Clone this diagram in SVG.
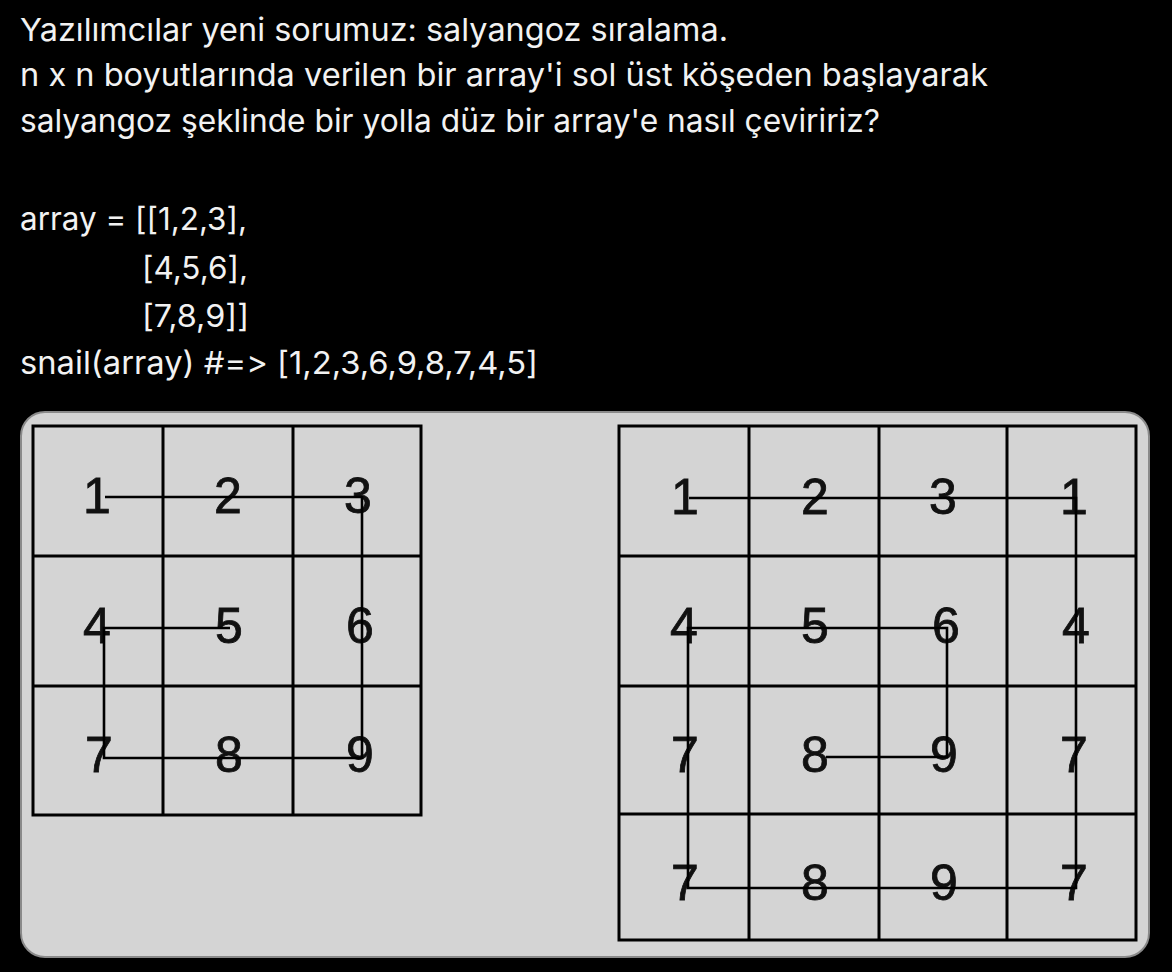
<svg xmlns="http://www.w3.org/2000/svg" width="1172" height="972" viewBox="0 0 1172 972">
<style>
.t{font-family:Inter,"Liberation Sans",sans-serif;font-size:31.5px;fill:#f2f2f2;font-variant-ligatures:none;font-feature-settings:"calt" 0,"liga" 0}
.g{fill:none;stroke:#000;stroke-width:3}
.p{fill:none;stroke:#000;stroke-width:2.6;stroke-linejoin:miter}
.d{font-family:"Liberation Sans","DejaVu Sans",sans-serif;font-size:50px;fill:#111;stroke:#111;stroke-width:0.8;text-anchor:middle}
</style>
<rect width="1172" height="972" fill="#000"/>
<g id="text">
<text class="t" x="20" y="41" textLength="708" lengthAdjust="spacingAndGlyphs">Yazılımcılar yeni sorumuz: salyangoz sıralama.</text>
<text class="t" x="20" y="86" textLength="968" lengthAdjust="spacingAndGlyphs">n x n boyutlarında verilen bir array'i sol üst köşeden başlayarak</text>
<text class="t" x="20" y="132" textLength="860" lengthAdjust="spacingAndGlyphs">salyangoz şeklinde bir yolla düz bir array'e nasıl çeviririz?</text>
<text class="t" x="20" y="230" textLength="227" lengthAdjust="spacingAndGlyphs">array = [[1,2,3],</text>
<text class="t" x="142" y="279" textLength="106" lengthAdjust="spacingAndGlyphs">[4,5,6],</text>
<text class="t" x="142" y="327" textLength="107" lengthAdjust="spacingAndGlyphs">[7,8,9]]</text>
<text class="t" x="20" y="374" textLength="518" lengthAdjust="spacingAndGlyphs">snail(array) #=&gt; [1,2,3,6,9,8,7,4,5]</text>
</g>
<g id="panel">
<rect x="21" y="412" width="1128" height="545" rx="24" fill="#d4d4d4" stroke="#8a8a8a" stroke-width="2"/>
</g>
<g id="grid3">
<rect class="g" x="33" y="426" width="388" height="389"/>
<path class="g" d="M163 426V815M293 426V815M33 556H421M33 686H421"/>
<text class="d" x="97" y="513">1</text><text class="d" x="228" y="513">2</text><text class="d" x="358" y="513">3</text>
<text class="d" x="97" y="643">4</text><text class="d" x="229" y="643">5</text><text class="d" x="360" y="643">6</text>
<text class="d" x="99" y="772">7</text><text class="d" x="229" y="772">8</text><text class="d" x="360" y="772">9</text>
</g>
<g id="grid4">
<rect class="g" x="619" y="426" width="517" height="514"/>
<path class="g" d="M749 426V940M879 426V940M1007 426V940M619 556H1136M619 686H1136M619 814H1136"/>
<text class="d" x="685" y="514">1</text><text class="d" x="815" y="514">2</text><text class="d" x="943" y="514">3</text><text class="d" x="1074" y="514">1</text>
<text class="d" x="684" y="643">4</text><text class="d" x="815" y="643">5</text><text class="d" x="946" y="643">6</text><text class="d" x="1076" y="643">4</text>
<text class="d" x="685" y="772">7</text><text class="d" x="815" y="772">8</text><text class="d" x="944" y="772">9</text><text class="d" x="1074" y="772">7</text>
<text class="d" x="685" y="900">7</text><text class="d" x="815" y="900">8</text><text class="d" x="944" y="900">9</text><text class="d" x="1074" y="900">7</text>
</g>
<g id="connectors">
<path class="p" d="M105 497H362V758H104V628H230"/>
<path class="p" d="M689 498H1076V888H688V628H947V757H826"/>
</g>
</svg>
